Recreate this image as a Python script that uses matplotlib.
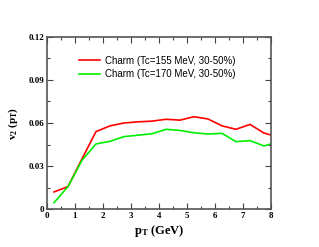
import matplotlib
matplotlib.use('Agg')
import matplotlib.pyplot as plt
from matplotlib.ticker import MultipleLocator

pt = [0.25, 0.75, 1.25, 1.75, 2.25, 2.75, 3.25, 3.75, 4.25, 4.75, 5.25, 5.75, 6.25, 6.75, 7.25, 7.75, 8.0]
v2_155 = [0.0119, 0.0156, 0.035, 0.054, 0.058, 0.060, 0.0608, 0.0613, 0.0626, 0.0620, 0.0644, 0.0628,
          0.0580, 0.0556, 0.0590, 0.0530, 0.0516]
v2_170 = [0.0044, 0.0156, 0.034, 0.0454, 0.0472, 0.0505, 0.0515, 0.0525, 0.0556, 0.0548, 0.0532, 0.0523,
          0.0528, 0.0470, 0.0477, 0.0440, 0.0454]
labels = ['Charm (Tc=155 MeV, 30-50%)', 'Charm (Tc=170 MeV, 30-50%)']

SERIF = 'Liberation Serif'
SANS = 'Liberation Sans'

plt.rcParams['mathtext.fontset'] = 'custom'
plt.rcParams['mathtext.bf'] = 'Liberation Serif:bold'
plt.rcParams['mathtext.rm'] = 'Liberation Serif'
plt.rcParams['mathtext.it'] = 'Liberation Serif:italic'

fig = plt.figure(figsize=(3.19, 2.47), dpi=100)
ax = fig.add_axes([47 / 319, 1 - 209 / 247, 224 / 319, 172 / 247])

ax.plot(pt, v2_155, color='#ff0000', lw=1.2, label=labels[0])
ax.plot(pt, v2_170, color='#00ee00', lw=1.2, label=labels[1])

ax.set_xlim(0, 8)
ax.set_ylim(0, 0.12)
ax.xaxis.set_minor_locator(MultipleLocator(0.5))
ax.yaxis.set_minor_locator(MultipleLocator(0.015))
ax.set_xticks(range(9))
ax.set_xticklabels([str(i) for i in range(9)])
ax.set_yticks([0, 0.03, 0.06, 0.09, 0.12])
ax.set_yticklabels(['0', '0.03', '0.06', '0.09', '0.12'])
ax.tick_params(which='both', direction='in', top=True, right=True, width=0.8, color='#444444')
ax.tick_params(which='major', length=4, pad=2)
ax.tick_params(which='minor', length=2)
for lab in ax.get_xticklabels() + ax.get_yticklabels():
    lab.set_family(SERIF)
    lab.set_weight('bold')
    lab.set_size(6.5)
for sp in ax.spines.values():
    sp.set_linewidth(1.2)
    sp.set_color('#555555')

ax.set_xlabel(r'$\mathbf{p_T}$ (GeV)', family=SERIF, weight='bold', size=9, labelpad=2)
ax.set_ylabel(r'$\mathbf{v_2}$ ($\mathbf{p_T}$)', family=SERIF, weight='bold', size=8, labelpad=6)

ax.legend(loc='upper left', bbox_to_anchor=(0.125, 0.915), frameon=False,
          prop={'family': SANS, 'size': 7}, handlelength=2.2, handletextpad=0.5,
          labelspacing=0.35, borderaxespad=0)

fig.savefig('out.png', dpi=100)
